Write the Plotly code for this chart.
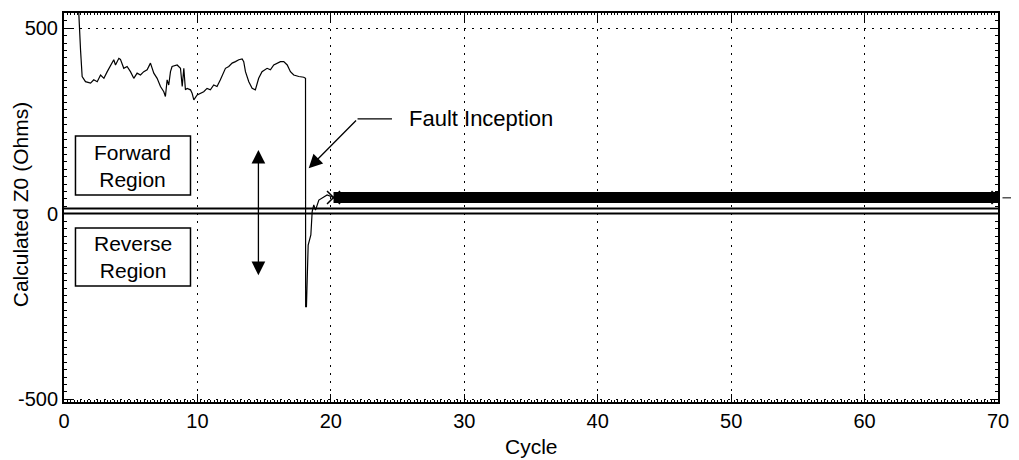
import plotly.graph_objects as go

# ---------------- data ----------------
cycle_pre = [0.86, 1.11, 1.24, 1.36, 1.61, 1.99, 2.23, 2.49, 2.74, 2.99, 3.24, 3.48, 3.73, 3.86,
             4.11, 4.23, 4.48, 4.73, 4.98, 5.23, 5.48, 5.73, 5.98, 6.23, 6.48, 6.73, 6.98, 7.23,
             7.48, 7.60, 7.73, 7.85, 7.98, 8.10, 8.48, 8.73, 8.86, 8.98, 9.10, 9.23, 9.48, 9.60,
             9.73, 9.98, 10.23, 10.47, 10.72, 10.97, 11.22, 11.47, 11.72, 11.97, 12.10, 12.35,
             12.60, 12.85, 13.10, 13.35, 13.47, 13.60, 13.85, 14.10, 14.34, 14.59, 14.84, 15.22,
             15.47, 15.72, 15.97, 16.22, 16.47, 16.73, 16.97, 17.22, 17.60, 17.97, 18.10,
             18.11, 18.17, 18.30, 18.50, 18.60, 18.72, 18.85, 19.10, 19.35, 19.72, 20.2]
z0_pre = [576, 540, 441, 370, 356, 352, 361, 356, 374, 365, 383, 397, 415, 401,
          419, 416, 392, 397, 383, 365, 379, 374, 383, 388, 406, 379, 365, 343,
          329, 316, 361, 347, 383, 397, 401, 392, 343, 392, 334, 338, 334, 325,
          307, 320, 325, 329, 338, 334, 347, 343, 361, 379, 392, 397,
          406, 410, 415, 417, 410, 383, 356, 338, 334, 365, 383, 392,
          388, 401, 406, 410, 410, 401, 383, 374, 370, 368, 365,
          -250, -250, -84, -57, 6, 24, 10, 37, 42, 51, 44]

steady_cycle = [20.2, 70]
steady_z0 = [44, 44]

threshold_fwd = 14
threshold_rev = 1

x_ticks = [0, 10, 20, 30, 40, 50, 60, 70]
x_ticktext = ["0", "10", "20", "30", "40", "50", "60", "70"]
y_ticks = [-500, 0, 500]
y_ticktext = ["-500", "0", "500"]
x_range = [0, 70]
y_range = [-507, 541]

FONT = "Arial, Liberation Sans, Helvetica, sans-serif"

fig = go.Figure()

# threshold lines
for th in (threshold_fwd, threshold_rev):
    fig.add_trace(go.Scatter(x=x_range, y=[th, th], mode="lines",
                             line=dict(color="black", width=2), hoverinfo="skip"))

# steady-state band after the fault
fig.add_trace(go.Scatter(x=steady_cycle, y=steady_z0, mode="lines+markers",
                         line=dict(color="black", width=11),
                         marker=dict(symbol="x-thin", size=13, line=dict(color="black", width=1.5)),
                         hoverinfo="skip"))

# calculated Z0 trace
fig.add_trace(go.Scatter(x=cycle_pre, y=z0_pre, mode="lines",
                         line=dict(color="black", width=1.2), hoverinfo="skip"))

# region boxes
fig.add_shape(type="rect", x0=0.86, x1=9.48, y0=50.7, y1=209.7,
              line=dict(color="black", width=1.5), fillcolor="white", layer="above")
fig.add_shape(type="rect", x0=0.86, x1=9.48, y0=-194.6, y1=-38.3,
              line=dict(color="black", width=1.5), fillcolor="white", layer="above")
fig.add_annotation(x=5.17, y=130, text="Forward<br>Region", showarrow=False,
                   font=dict(family=FONT, size=21, color="black"))
fig.add_annotation(x=5.17, y=-116.4, text="Reverse<br>Region", showarrow=False,
                   font=dict(family=FONT, size=21, color="black"))

# double arrow
fig.add_annotation(x=14.57, y=172, ax=14.57, ay=-169.5, axref="x", ayref="y",
                   text="", showarrow=True, arrowhead=2, arrowside="end+start",
                   arrowsize=2.1, arrowwidth=1.3, arrowcolor="black",
                   standoff=0, startstandoff=0)

# fault inception arrow + label
fig.add_annotation(x=18.34, y=122.6, ax=22.0, ay=255.5, axref="x", ayref="y",
                   text="", showarrow=True, arrowhead=2, arrowsize=2.1,
                   arrowwidth=1.3, arrowcolor="black", standoff=0)
fig.add_shape(type="line", x0=22.0, x1=24.58, y0=255.5, y1=255.5,
              line=dict(color="black", width=1.3))
fig.add_annotation(x=25.69, y=258, text="Fault Inception", showarrow=False,
                   xanchor="left", yanchor="middle",
                   font=dict(family=FONT, size=22, color="black"))

# small continuation line outside the right border
fig.add_shape(type="line", xref="paper", yref="y", x0=1.0048, x1=1.022,
              y0=43, y1=43, line=dict(color="black", width=1))

# axis titles
fig.add_annotation(xref="paper", yref="paper", x=0.5, y=-0.115, text="Cycle",
                   showarrow=False, xanchor="center", yanchor="middle",
                   font=dict(family=FONT, size=21, color="black"))
fig.add_annotation(xref="paper", yref="paper", x=-0.047, y=0.506, text="Calculated Z0 (Ohms)",
                   showarrow=False, textangle=-90, xanchor="center", yanchor="middle",
                   font=dict(family=FONT, size=21, color="black"))

axis_common = dict(
    showline=True, linecolor="black", linewidth=2, mirror="allticks",
    ticks="inside", ticklen=8, tickwidth=1.3, tickcolor="black",
    showgrid=True, gridcolor="black", gridwidth=1.2, griddash="1.5px,6.5px",
    zeroline=False, automargin=False,
    tickfont=dict(family=FONT, size=20, color="black"),
)

fig.update_xaxes(**axis_common, range=x_range, tickvals=x_ticks, ticktext=x_ticktext,
                 minor=dict(ticks="inside", ticklen=2, dtick=0.25, tickcolor="black", showgrid=False))
fig.update_yaxes(**axis_common, range=y_range, tickvals=y_ticks, ticktext=y_ticktext,
                 minor=dict(ticks="inside", ticklen=3, dtick=20, tickcolor="black", showgrid=False))

# page body has an 8px margin: size the figure so the plot lands where the reference has it
fig.update_layout(
    width=1011, height=452,
    margin=dict(l=56, r=20.5, t=5, b=58),
    paper_bgcolor="white", plot_bgcolor="white",
    showlegend=False,
    font=dict(family=FONT, color="black"),
)

fig.write_html("out.html")
